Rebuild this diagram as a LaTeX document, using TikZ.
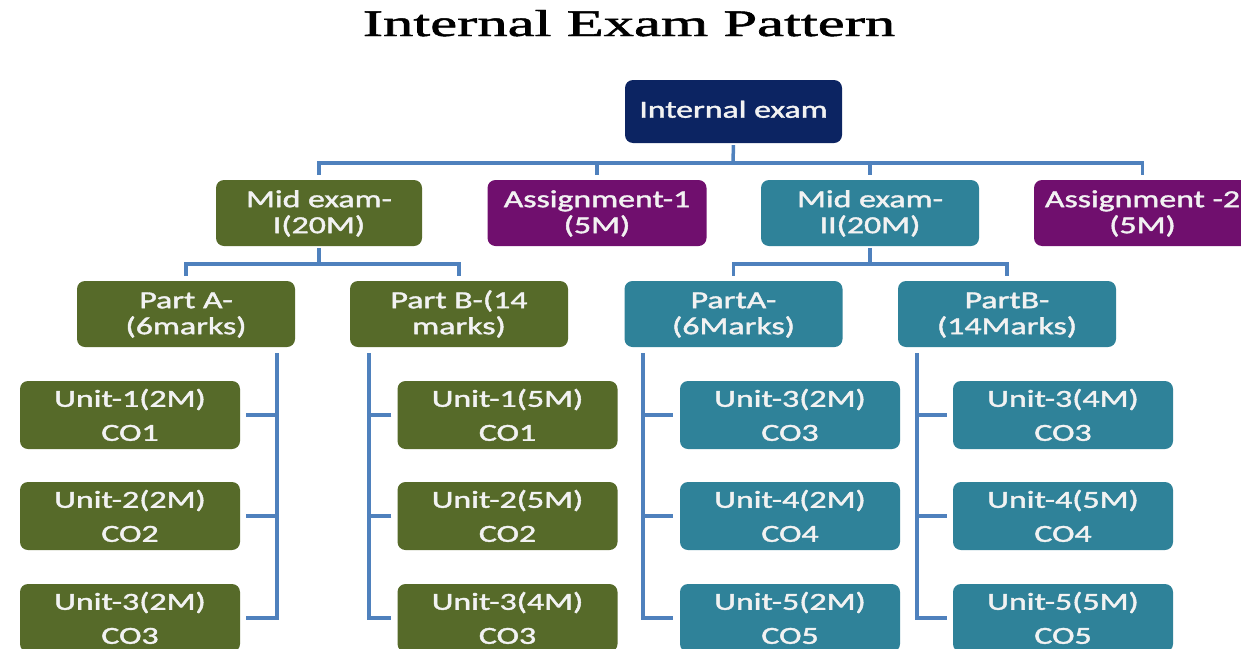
\documentclass[tikz,border=0pt]{standalone}
\usepackage{fontspec}
\usepackage{graphicx}
\newfontfamily\boxfont[FakeBold=1.4]{Carlito}
\newfontfamily\headfont[FakeBold=1.2]{Liberation Serif}

\definecolor{navybox}{HTML}{0C2462}
\definecolor{olivebox}{HTML}{566A29}
\definecolor{plumbox}{HTML}{700F6E}
\definecolor{tealbox}{HTML}{2F8299}
\definecolor{boxtext}{HTML}{F2F2F2}
\definecolor{linkblue}{HTML}{4F81BD}

% box captions: one or two centred lines, widened a little and set 2pt low
\newcommand\oneline[1]{\raisebox{-1pt}[\height][\depth]{\scalebox{1.38}[1]{\begin{tabular}{@{}c@{}}#1\end{tabular}}}}
\newcommand\twolines[2]{\raisebox{-2pt}[\height][\depth]{\scalebox{1.38}[1]{\begin{tabular}{@{}c@{}}#1\\#2\end{tabular}}}}

\begin{document}
\begin{tikzpicture}[x=1pt,y=-1pt,
  box/.style={rectangle, rounded corners=8pt, inner sep=0pt, text=boxtext,
    minimum width=218pt, minimum height=66pt,
    font=\boxfont\fontsize{24.5}{26}\selectfont},
  unitbox/.style={box, minimum width=220pt, font=\boxfont\fontsize{24.5}{34}\selectfont},
  conn/.style={draw=linkblue, line width=3.5pt},
  heading/.style={anchor=base, inner sep=0pt, font=\headfont}]

\useasboundingbox (0,0) rectangle (1241,648);
\clip (0,0) rectangle (1241,648);

% heading
\node[heading] (title) at (629,36) {\resizebox{532pt}{26pt}{Internal Exam Pattern}};

% root
\node[box, fill=navybox, minimum width=217pt, minimum height=63pt] (top) at (733.5,111.5) {\oneline{Internal exam}};

% second level
\node[box, fill=olivebox, minimum width=206pt] (mid1) at (319,213) {\twolines{Mid exam-}{I(20M)}};
\node[box, fill=plumbox, minimum width=219pt] (as1) at (597,213) {\twolines{Assignment-1}{(5M)}};
\node[box, fill=tealbox] (mid2) at (870,213) {\twolines{Mid exam-}{II(20M)}};
\node[box, fill=plumbox, minimum width=217pt] (as2) at (1142.5,213) {\twolines{Assignment -2}{(5M)}};

% parts
\node[box, fill=olivebox] (pa1) at (186,314) {\twolines{Part A-}{(6marks)}};
\node[box, fill=olivebox] (pb1) at (459,314) {\twolines{Part B-(14}{marks)}};
\node[box, fill=tealbox] (pa2) at (733.5,314) {\twolines{PartA-}{(6Marks)}};
\node[box, fill=tealbox] (pb2) at (1007,314) {\twolines{PartB-}{(14Marks)}};

% units
\node[unitbox, fill=olivebox] (u11) at (130,415) {\twolines{Unit-1(2M)}{CO1}};
\node[unitbox, fill=olivebox] (u12) at (130,516) {\twolines{Unit-2(2M)}{CO2}};
\node[unitbox, fill=olivebox] (u13) at (130,618) {\twolines{Unit-3(2M)}{CO3}};

\node[unitbox, fill=olivebox] (u21) at (507.5,415) {\twolines{Unit-1(5M)}{CO1}};
\node[unitbox, fill=olivebox] (u22) at (507.5,516) {\twolines{Unit-2(5M)}{CO2}};
\node[unitbox, fill=olivebox] (u23) at (507.5,618) {\twolines{Unit-3(4M)}{CO3}};

\node[unitbox, fill=tealbox] (u31) at (790,415) {\twolines{Unit-3(2M)}{CO3}};
\node[unitbox, fill=tealbox] (u32) at (790,516) {\twolines{Unit-4(2M)}{CO4}};
\node[unitbox, fill=tealbox] (u33) at (790,618) {\twolines{Unit-5(2M)}{CO5}};

\node[unitbox, fill=tealbox] (u41) at (1063,415) {\twolines{Unit-3(4M)}{CO3}};
\node[unitbox, fill=tealbox] (u42) at (1063,516) {\twolines{Unit-4(5M)}{CO4}};
\node[unitbox, fill=tealbox] (u43) at (1063,618) {\twolines{Unit-5(5M)}{CO5}};

% upper bus
\coordinate (bus) at (733,163);
\draw[conn, shorten <=2pt] (top.south) -- (bus);
\draw[conn, shorten <=5pt, shorten >=5pt] (mid1.north) |- (bus) -| (as2.north);
\draw[conn, shorten <=5pt] (as1.north) -- (as1.north |- bus);
\draw[conn, shorten <=5pt] (mid2.north) -- (mid2.north |- bus);

% buses under the mid exams
\coordinate (busA) at (319,264);
\coordinate (busB) at (870,264);
\draw[conn, shorten <=2pt] (mid1.south) -- (busA);
\draw[conn, shorten <=5pt, shorten >=5pt] (pa1.north) |- (busA) -| (pb1.north);
\draw[conn, shorten <=2pt] (mid2.south) -- (busB);
\draw[conn, shorten <=5pt, shorten >=5pt] (pa2.north) |- (busB) -| (pb2.north);

% spines to the units
\coordinate (s1) at (277,353);
\coordinate (s2) at (369,353);
\coordinate (s3) at (643,353);
\coordinate (s4) at (917,353);

\draw[conn, shorten >=6pt] (s1) |- (u13.east);
\draw[conn, shorten <=6pt] (u11.east) -- (u11.east -| s1);
\draw[conn, shorten <=6pt] (u12.east) -- (u12.east -| s1);

\draw[conn, shorten >=6pt] (s2) |- (u23.west);
\draw[conn, shorten <=6pt] (u21.west) -- (u21.west -| s2);
\draw[conn, shorten <=6pt] (u22.west) -- (u22.west -| s2);

\draw[conn, shorten >=7pt] (s3) |- (u33.west);
\draw[conn, shorten <=7pt] (u31.west) -- (u31.west -| s3);
\draw[conn, shorten <=7pt] (u32.west) -- (u32.west -| s3);

\draw[conn, shorten >=6pt] (s4) |- (u43.west);
\draw[conn, shorten <=6pt] (u41.west) -- (u41.west -| s4);
\draw[conn, shorten <=6pt] (u42.west) -- (u42.west -| s4);
\end{tikzpicture}
\end{document}
